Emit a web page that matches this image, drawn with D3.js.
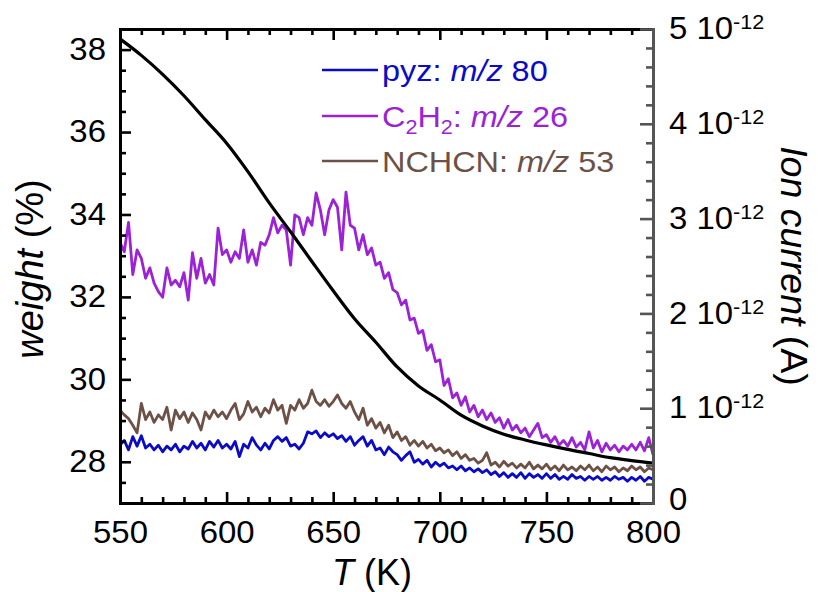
<!DOCTYPE html>
<html><head><meta charset="utf-8">
<script src="https://cdn.jsdelivr.net/npm/d3@7"></script>
<style>html,body{margin:0;padding:0;background:#fff;} svg{display:block;font-family:"Liberation Sans",Arial,Helvetica,sans-serif;}</style>
</head><body>
<svg id="c" width="818" height="592"></svg>
<script>
// ---------- data ----------
// temperature (K) of the mass-spec traces
const temps = [550,552,554,556,558,560,562,564,566,568,570,572,574,576,578,580,582,584,586,588,
590,592,594,596,598,600,602,604,606,608,610,612,614,616,618,620,622,624,626,628,
630,632,634,636,638,640,642,644,646,648,650,652,654,656,658,660,662,664,666,668,
670,672,674,676,678,680,682,684,686,688,690,692,694,696,698,700,702,704,706,708,
710,712,714,716,718,720,722,724,726,728,730,732,734,736,738,740,742,744,746,748,
750,752,754,756,758,760,762,764,766,768,770,772,774,776,778,780,782,784,786,788,
790,792,794,796,798,800];
// ion currents in units of 1e-12 A
const pyz = [0.61,0.66,0.56,0.70,0.60,0.71,0.58,0.62,0.56,0.61,0.54,0.60,0.56,0.62,0.54,0.60,0.57,0.65,0.58,0.63,
0.56,0.65,0.59,0.66,0.58,0.62,0.57,0.65,0.49,0.62,0.58,0.69,0.61,0.56,0.63,0.57,0.66,0.70,0.65,0.69,
0.60,0.62,0.57,0.63,0.75,0.73,0.76,0.69,0.74,0.70,0.73,0.68,0.71,0.65,0.70,0.61,0.66,0.70,0.60,0.66,
0.56,0.58,0.51,0.59,0.54,0.51,0.45,0.50,0.54,0.43,0.46,0.41,0.45,0.38,0.43,0.39,0.42,0.37,0.39,0.35,
0.39,0.34,0.37,0.33,0.36,0.32,0.35,0.30,0.33,0.28,0.32,0.27,0.31,0.27,0.32,0.26,0.31,0.27,0.30,0.26,
0.31,0.26,0.30,0.25,0.28,0.25,0.30,0.26,0.28,0.24,0.28,0.25,0.28,0.24,0.27,0.24,0.28,0.25,0.27,0.23,
0.27,0.24,0.28,0.23,0.27,0.25];
const c2h2 = [2.75,2.65,2.96,2.41,2.67,2.58,2.37,2.48,2.32,2.23,2.17,2.48,2.30,2.35,2.28,2.43,2.14,2.64,2.37,2.58,
2.32,2.41,2.30,2.90,2.62,2.67,2.54,2.65,2.58,2.88,2.54,2.67,2.51,2.75,2.72,2.83,3.01,2.85,2.93,2.88,
2.51,3.04,3.01,2.83,3.01,2.93,3.27,3.09,2.83,3.09,3.20,3.12,2.67,3.28,2.93,2.90,2.67,2.83,2.62,2.69,
2.51,2.54,2.37,2.43,2.25,2.22,2.09,2.14,1.93,1.95,1.79,1.82,1.61,1.67,1.49,1.51,1.24,1.31,1.11,1.16,
1.03,1.12,0.96,1.03,0.91,0.98,0.88,0.95,0.85,0.90,0.79,0.88,0.77,0.82,0.74,0.79,0.70,0.77,0.84,0.69,
0.72,0.64,0.70,0.61,0.66,0.60,0.69,0.59,0.64,0.56,0.75,0.58,0.66,0.54,0.63,0.56,0.61,0.54,0.60,0.56,
0.62,0.56,0.64,0.55,0.69,0.51];
const nchcn = [0.98,0.93,0.89,0.82,0.74,1.05,0.88,0.96,0.85,0.93,0.88,1.01,0.77,0.98,0.89,0.96,0.85,0.95,0.88,0.77,
0.96,0.89,0.98,0.91,0.96,0.89,0.98,1.05,0.88,0.94,1.07,0.96,1.01,0.91,1.00,0.95,1.09,0.98,1.03,0.84,
1.03,0.98,1.09,1.00,1.05,1.19,1.07,1.03,1.09,1.02,1.07,1.14,1.05,1.00,1.07,0.96,0.88,1.00,0.82,0.89,
0.79,0.85,0.74,0.82,0.69,0.75,0.66,0.70,0.61,0.66,0.60,0.65,0.58,0.62,0.55,0.58,0.53,0.56,0.50,0.54,
0.47,0.51,0.45,0.47,0.42,0.45,0.53,0.40,0.43,0.38,0.44,0.39,0.42,0.37,0.41,0.37,0.43,0.36,0.40,0.36,
0.41,0.35,0.39,0.34,0.40,0.35,0.38,0.34,0.39,0.35,0.40,0.34,0.38,0.33,0.39,0.35,0.38,0.33,0.37,0.34,
0.39,0.35,0.38,0.33,0.37,0.35];
// TGA weight (%)
const weightT = [550,560,570,580,590,600,610,620,630,640,650,660,670,680,690,700,710,720,730,740,750,760,770,780,790,800];
const weight = [38.26,37.86,37.40,36.88,36.30,35.73,35.04,34.28,33.58,32.86,32.15,31.47,30.90,30.30,29.84,29.50,29.13,28.87,28.67,28.53,28.41,28.30,28.20,28.10,28.03,27.97];
// ticks
const xTicks = [550,600,650,700,750,800];
const yLTicks = [28,30,32,34,36,38];
const yRTicks = [0,1,2,3,4,5];
const seriesNames = ["pyz","C2H2","NCHCN"];

// ---------- layout ----------
const M = {l:120, r:653, t:29, b:503};
const SX = 1.08; // horizontal glyph stretch of the reference
const FONT = 30.5;
const colBlue = "#0a0ac8", colPurple = "#9b22d6", colBrown = "#6d5147";

const svg = d3.select("#c");
const x = d3.scaleLinear().domain([550,800]).range([M.l,M.r]);
const yL = d3.scaleLinear().domain([27,38.5]).range([M.b,M.t]);
const yR = d3.scaleLinear().domain([0,5]).range([M.b,M.t]);

svg.append("defs").append("clipPath").attr("id","clip")
  .append("rect").attr("x",M.l).attr("y",M.t).attr("width",M.r-M.l).attr("height",M.b-M.t);

// ---------- lines ----------
const plot = svg.append("g").attr("clip-path","url(#clip)");
const lineR = (vals)=> d3.line().x((d,i)=>x(temps[i])).y(d=>yR(d))(vals);
plot.append("path").attr("d",lineR(pyz)).attr("fill","none").attr("stroke",colBlue).attr("stroke-width",2.8).attr("stroke-linejoin","round");
plot.append("path").attr("d",lineR(nchcn)).attr("fill","none").attr("stroke",colBrown).attr("stroke-width",2.8).attr("stroke-linejoin","round");
plot.append("path").attr("d",lineR(c2h2)).attr("fill","none").attr("stroke",colPurple).attr("stroke-width",2.8).attr("stroke-linejoin","round");
const lineW = d3.line().x((d,i)=>x(weightT[i])).y(d=>yL(d)).curve(d3.curveMonotoneX);
plot.append("path").attr("d",lineW(weight)).attr("fill","none").attr("stroke","#000").attr("stroke-width",3.2);

// ---------- axes ----------
function styleAxis(g, color, showDomain){
  g.attr("font-size",null).attr("font-family",null);
  g.select(".domain").attr("stroke",color).attr("stroke-width",3).attr("stroke-linecap","square");
  if(!showDomain) g.select(".domain").remove();
  g.selectAll(".tick line").attr("stroke",color).attr("stroke-width",2.6);
  g.selectAll(".tick text").attr("fill","#000").style("font-size",FONT+"px").attr("transform",`scale(${SX},1)`);
}
const minorX = d3.range(550,801,10).filter(v=>v%50!==0);
const minorL = d3.range(27.5,38.5,0.5).filter(v=>v%2!==0);
const minorR = d3.range(0.2,5,0.2).filter(v=>Math.abs(v-Math.round(v))>1e-6);

// bottom
svg.append("g").attr("transform",`translate(0,${M.b})`)
  .call(d3.axisBottom(x).tickValues(minorX).tickSizeInner(-6).tickSizeOuter(0).tickFormat(""))
  .call(g=>styleAxis(g,"#000",false));
svg.append("g").attr("transform",`translate(0,${M.b})`)
  .call(d3.axisBottom(x).tickValues(xTicks).tickSizeInner(-11).tickSizeOuter(0).tickPadding(18.5))
  .call(g=>styleAxis(g,"#000",true));
// top
svg.append("g").attr("transform",`translate(0,${M.t})`)
  .call(d3.axisTop(x).tickValues(minorX).tickSizeInner(-6).tickSizeOuter(0).tickFormat(""))
  .call(g=>styleAxis(g,"#000",false));
svg.append("g").attr("transform",`translate(0,${M.t})`)
  .call(d3.axisTop(x).tickValues(xTicks).tickSizeInner(-11).tickSizeOuter(0).tickFormat(""))
  .call(g=>styleAxis(g,"#000",true));
// left
svg.append("g").attr("transform",`translate(${M.l},0)`)
  .call(d3.axisLeft(yL).tickValues(minorL).tickSizeInner(-6).tickSizeOuter(0).tickFormat(""))
  .call(g=>styleAxis(g,"#000",false));
svg.append("g").attr("transform",`translate(${M.l},0)`)
  .call(d3.axisLeft(yL).tickValues(yLTicks).tickSizeInner(-11).tickSizeOuter(0).tickPadding(13))
  .call(g=>styleAxis(g,"#000",true));
// right
const greyAx = "#555555";
svg.append("g").attr("transform",`translate(${M.r},0)`)
  .call(d3.axisRight(yR).tickValues(minorR).tickSizeInner(-7).tickSizeOuter(0).tickFormat(""))
  .call(g=>styleAxis(g,greyAx,false));
const gR = svg.append("g").attr("transform",`translate(${M.r},0)`)
  .call(d3.axisRight(yR).tickValues(yRTicks).tickSizeInner(-13).tickSizeOuter(0).tickPadding(14.8).tickFormat(d=>d))
  .call(g=>styleAxis(g,greyAx,true));
gR.selectAll(".tick text").each(function(d){
  const t = d3.select(this);
  t.text(null);
  if(d===0){ t.attr("dy","0.2em").append("tspan").text("0"); return; }
  t.append("tspan").text(d+" 10");
  t.append("tspan").attr("dy",-10).style("font-size","20px").text("-12");
});

// ---------- text helper ----------
function label(x0,y0,anchor,size,parts,color,rot,sx){
  const g = svg.append("g").attr("transform",`translate(${x0},${y0})`+(rot?` rotate(${rot})`:"")+(sx?` scale(${sx},1)`:""));
  const t = g.append("text").attr("text-anchor",anchor).style("font-size",size+"px").attr("fill",color);
  let shift = 0;
  parts.forEach(p=>{
    const s = t.append("tspan").text(p.t);
    if(p.it) s.style("font-style","italic");
    let want = p.sub ? 7 : 0;
    if(want!==shift){ s.attr("dy",want-shift); shift = want; }
    if(p.sub) s.style("font-size","20px");
  });
  return t;
}

// axis titles
label(372,585,"middle",36,[{t:"T",it:true},{t:" (K)"}],"#000");
label(43,269,"middle",38,[{t:"weight",it:true},{t:" (%)"}],"#000",-90);
label(781,266,"middle",37.5,[{t:"Ion current",it:true},{t:" (A)"}],"#000",90);

// ---------- legend ----------
const legend = [
  {c:colBlue, y:70, parts:[{t:"pyz: "},{t:"m/z",it:true},{t:" 80"}]},
  {c:colPurple, y:116, parts:[{t:"C"},{t:"2",sub:true},{t:"H"},{t:"2",sub:true},{t:": "},{t:"m/z",it:true},{t:" 26"}]},
  {c:colBrown, y:161, parts:[{t:"NCHCN: "},{t:"m/z",it:true},{t:" 53"}]}
];
legend.forEach((L,i)=>{
  svg.append("line").attr("x1",322).attr("x2",378).attr("y1",L.y).attr("y2",L.y)
    .attr("stroke",L.c).attr("stroke-width",2.7).attr("data-series",seriesNames[i]);
  label(382,L.y+11,"start",30,L.parts,L.c,0,SX);
});
</script>
</body></html>
